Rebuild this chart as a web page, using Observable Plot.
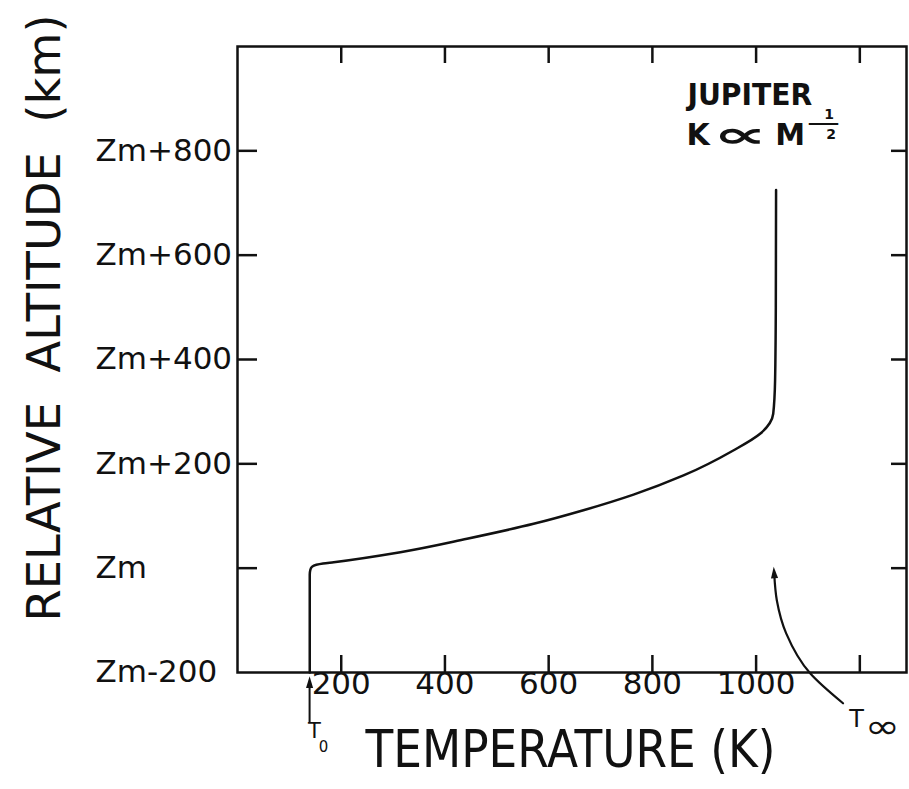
<!DOCTYPE html>
<html><head><meta charset="utf-8">
<script src="https://cdn.jsdelivr.net/npm/d3@7"></script>
<script src="https://cdn.jsdelivr.net/npm/@observablehq/plot@0.6"></script>
<style>body{margin:0;background:#fff} svg{display:block}</style>
</head><body><div id="chart"></div>
<script>
// Temperature profile (K) vs altitude relative to Zm (km)
const profileT   = [139.3, 139.3, 140.5, 144, 152, 165, 185.6, 314, 442.6, 571, 667, 763.6, 860, 956, 1007.7, 1033, 1036.6, 1038, 1038.5];
const profileAlt = [-200, -12, -3, 3, 6.5, 9, 11.5, 30.7, 56.4, 85, 111, 141, 177.7, 225.6, 257.6, 296, 360, 500, 725];

// Tick values and labels
const xTicks = [200, 400, 600, 800, 1000, 1200];
const xTickLabels = ["200", "400", "600", "800", "1000", ""];
const yTicks = [0, 200, 400, 600, 800];
const yLabelVals = [-200, 0, 200, 400, 600, 800];
const yLabels = ["Zm-200", "Zm", "Zm+200", "Zm+400", "Zm+600", "Zm+800"];

// T0 arrow (below axis) and T-infinity curved arrow
const t0ArrowT = [139, 139];
const t0ArrowAlt = [-295, -222];
const tinfArrowT = [1167.6, 1104.6, 1058, 1040, 1035];
const tinfArrowAlt = [-259, -202, -125, -62, -12];

// Annotation anchors (data units): bold lettering (upper right) and plain labels
const boldText = ["JUPITER", "K", "∝", "M", "—", "1", "2"];
const boldT    = [988, 888, 969, 1065.5, 1130, 1140.7, 1144.5];
const boldAlt  = [906, 829, 829, 829, 854, 869.7, 831];
const boldSize = [30, 30, 36, 30, 16, 14, 14];
const boldLen  = [125, null, 54, null, 33, null, null];

const plainText = ["T", "0", "T", "∞"];
const plainT    = [148.4, 165.7, 1193.6, 1243.7];
const plainAlt  = [-313, -343.7, -289, -304.4];
const plainSize = [21, 15, 24, 34];
const plainLen  = [null, null, null, 35];

const W = 909, H = 789, mL = 237, mR = 3, mT = 46, mB = 117;
const fh = H - mT - mB, fw = W - mL - mR;
const ink = "#111";
const sw = 2.5;

const profile = profileT.map((t, i) => ({T: t, alt: profileAlt[i]}));
const t0Arrow = t0ArrowT.map((t, i) => ({T: t, alt: t0ArrowAlt[i]}));
const tinfArrow = tinfArrowT.map((t, i) => ({T: t, alt: tinfArrowAlt[i]}));
const boldAnn = boldText.map((s, i) => ({s, T: boldT[i], alt: boldAlt[i], size: boldSize[i], len: boldLen[i]}));
const plainAnn = plainText.map((s, i) => ({s, T: plainT[i], alt: plainAlt[i], size: plainSize[i], len: plainLen[i]}));

const arrowHead = {
  draw(ctx, size) {
    const w = Math.sqrt(size) * 0.5;
    ctx.moveTo(0, -2.2 * w);
    ctx.lineTo(w, 1.1 * w);
    ctx.lineTo(-w, 1.1 * w);
    ctx.closePath();
  }
};

const chart = Plot.plot({
  width: W, height: H,
  marginLeft: mL, marginRight: mR, marginTop: mT, marginBottom: mB,
  style: {fontFamily: "DejaVu Sans", background: "#fff", color: ink, overflow: "visible"},
  x: {domain: [0, 1290], axis: null},
  y: {domain: [-200, 1000], axis: null},
  marks: [
    Plot.frame({stroke: ink, strokeWidth: sw}),
    Plot.ruleX(xTicks, {x: d => d, insetTop: fh - 17, stroke: ink, strokeWidth: sw}),
    Plot.ruleX(xTicks, {x: d => d, insetBottom: fh - 17, stroke: ink, strokeWidth: sw}),
    Plot.ruleY(yTicks, {y: d => d, insetRight: fw - 20, stroke: ink, strokeWidth: sw}),
    Plot.ruleY(yTicks, {y: d => d, insetLeft: fw - 15, stroke: ink, strokeWidth: sw}),
    Plot.line(profile, {x: "T", y: "alt", curve: "monotone-y", stroke: ink, strokeWidth: sw}),
    Plot.line(t0Arrow, {x: "T", y: "alt", stroke: ink, strokeWidth: 2}),
    Plot.dot([t0Arrow[1]], {x: "T", y: "alt", symbol: arrowHead, r: 4, fill: ink, stroke: "none"}),
    Plot.line(tinfArrow, {x: "T", y: "alt", curve: "monotone-y", stroke: ink, strokeWidth: 2.2}),
    Plot.dot([tinfArrow[tinfArrow.length - 1]], {x: "T", y: "alt", symbol: arrowHead, r: 4, rotate: -4, fill: ink, stroke: "none"}),
    Plot.text(xTicks, {x: d => d, text: (d, i) => xTickLabels[i], frameAnchor: "bottom", dy: 21, fontSize: 31, fill: ink}),
    Plot.text(yLabelVals, {y: d => d, text: (d, i) => yLabels[i], frameAnchor: "left", textAnchor: "start", dx: -142, fontSize: 31, fill: ink}),
    Plot.text(boldAnn, {x: "T", y: "alt", text: "s", fontSize: "size", fontWeight: "bold", fill: ink, className: "annb"}),
    Plot.text(plainAnn, {x: "T", y: "alt", text: "s", fontSize: "size", fill: ink, className: "annp"}),
    Plot.text(["RELATIVE  ALTITUDE  (km)"], {frameAnchor: "left", textAnchor: "start", dx: -192, dy: 262, rotate: -90, fontSize: 46, fill: ink, className: "ytitle"}),
    Plot.text(["TEMPERATURE (K)"], {frameAnchor: "bottom", textAnchor: "start", dx: -206.5, dy: 94, fontSize: 52, fill: ink, className: "xtitle"})
  ]
});

document.getElementById("chart").appendChild(chart);

// Fit title / annotation lengths to the reference lettering
const svg = d3.select(chart);
svg.selectAll(".ytitle text").attr("textLength", 607).attr("lengthAdjust", "spacingAndGlyphs");
svg.selectAll(".xtitle text").attr("textLength", 410).attr("lengthAdjust", "spacingAndGlyphs");
function fit(cls, arr) {
  svg.selectAll(cls + " text").each(function(d, i) {
    const a = arr[i];
    if (a && a.len) d3.select(this).attr("textLength", a.len).attr("lengthAdjust", "spacingAndGlyphs");
  });
}
fit(".annb", boldAnn);
fit(".annp", plainAnn);
</script>
</body></html>
